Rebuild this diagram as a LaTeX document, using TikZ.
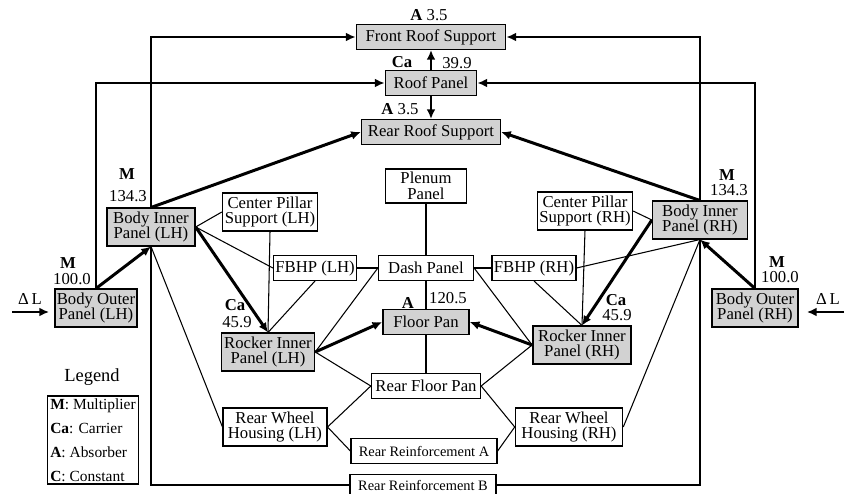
\documentclass[tikz,border=0pt]{standalone}
\usepackage{fontspec}
\setmainfont{Liberation Serif}
\usetikzlibrary{arrows.meta,positioning,calc}
\tikzset{
  partbox/.style={draw,line width=0.8pt,fill=white,inner xsep=1pt,inner ysep=2pt,minimum height=14pt,align=center,font=\fontsize{9.5}{8.8}\selectfont},
  partgray/.style={partbox,fill=gray!35},
  loadarc/.style={->,line width=1.7pt},
  linkarc/.style={line width=0.6pt},
  inarc/.style={->,line width=0.9pt},
  vallab/.style={inner sep=0pt,font=\fontsize{9.5}{10}\selectfont}
}

\begin{document}
\begin{tikzpicture}[x=0.02cm,y=-0.02cm,>={Latex[length=5.5pt,width=5pt]}]
  \useasboundingbox (0,0) rectangle (850,494);
  \node[partgray,minimum width=85pt] (frs) at (431,37) {Front Roof Support};
  \node[partgray,minimum width=52pt] (rp) at (431,83) {Roof Panel};
  \node[partgray,minimum width=79pt] (rrs) at (431,132) {Rear Roof Support};
  \node[partgray,minimum width=50pt] (bil) at (151,227) {Body Inner\\Panel (LH)};
  \node[partgray,minimum width=54pt] (bir) at (700,220) {Body Inner\\Panel (RH)};
  \node[partgray,minimum width=46pt] (bol) at (96,308) {Body Outer\\Panel (LH)};
  \node[partgray,minimum width=49pt] (bor) at (755,308) {Body Outer\\Panel (RH)};
  \node[partbox,minimum width=54pt] (cpl) at (270,212) {Center Pillar\\Support (LH)};
  \node[partbox,minimum width=54pt] (cpr) at (585,211) {Center Pillar\\Support (RH)};
  \node[partbox,minimum width=46pt] (pp) at (426,186) {Plenum\\Panel};
  \node[partbox,minimum width=46.5pt] (fbl) at (315,268) {FBHP (LH)};
  \node[partbox,minimum width=54pt] (dp) at (426,268) {Dash Panel};
  \node[partbox,minimum width=47pt] (fbr) at (534,268) {FBHP (RH)};
  \node[partgray,minimum width=49pt] (fp) at (426,322) {Floor Pan};
  \node[partgray,minimum width=53pt] (ril) at (268,352) {Rocker Inner\\Panel (LH)};
  \node[partgray,minimum width=56pt] (rir) at (582,345) {Rocker Inner\\Panel (RH)};
  \node[partbox,minimum width=62pt] (rfp) at (426,386) {Rear Floor Pan};
  \node[partbox,minimum width=59pt] (rwl) at (275,427) {Rear Wheel\\Housing (LH)};
  \node[partbox,minimum width=61pt] (rwr) at (569,427) {Rear Wheel\\Housing (RH)};
  \node[partbox,minimum width=83pt,font=\fontsize{8.2}{9}\selectfont] (rra) at (424,451) {Rear Reinforcement A};
  \node[partbox,minimum width=83pt,minimum height=12pt,inner ysep=1pt,font=\fontsize{8.2}{9}\selectfont] (rrb) at (423,485) {Rear Reinforcement B};
  % valori
  \node[vallab] (lfrs) at (429,15) {\textbf{A} 3.5};
  \node[vallab] (lrpa) at (402,62) {\textbf{Ca}};
  \node[vallab] (lrpb) at (457,63) {39.9};
  \node[vallab] (lrrs) at (400,109) {\textbf{A} 3.5};
  \node[vallab] (lbila) at (127,174) {\textbf{M}};
  \node[vallab] (lbilb) at (128,196) {134.3};
  \node[vallab] (lbira) at (727,175) {\textbf{M}};
  \node[vallab] (lbirb) at (729,190) {134.3};
  \node[vallab] (lbola) at (68,263) {\textbf{M}};
  \node[vallab] (lbolb) at (72,279) {100.0};
  \node[vallab] (lbora) at (777,262) {\textbf{M}};
  \node[vallab] (lborb) at (780,277) {100.0};
  \node[vallab] (lrila) at (235,305) {\textbf{Ca}};
  \node[vallab] (lrilb) at (237,322) {45.9};
  \node[vallab] (lrira) at (616,300) {\textbf{Ca}};
  \node[vallab] (lrirb) at (617,315) {45.9};
  \node[vallab] (lfpa) at (408,303) {\textbf{A}};
  \node[vallab] (lfpb) at (448,298) {120.5};
  % spostamento imposto
  \node[vallab] (dll) at (30,299) {Δ\,L};
  \node[vallab] (dlr) at (828,299) {Δ\,L};
  \coordinate (inl) at (12,312);
  \coordinate (inlend) at (49,312);
  \coordinate (inr) at (844,312);
  \coordinate (inrend) at (807,312);
  \draw[inarc] (inl) -- (inlend);
  \draw[inarc] (inr) -- (inrend);
  % legenda
  \node[font=\fontsize{10.5}{12}\selectfont] (legt) at (92,377) {Legend};
  \node[draw,line width=0.8pt,align=left,inner sep=1.5pt,font=\fontsize{8.8}{13.6}\selectfont] (leg) at (93,440) {\textbf{M}: Multiplier\\\textbf{Ca}: Carrier\\\textbf{A}: Absorber\\\textbf{C}: Constant};
  % archi di carico
  \draw[loadarc] (bil.north) |- (frs.west);
  \draw[loadarc] (bir.north) |- (frs.east);
  \draw[loadarc] (bol.north) |- (rp.west);
  \draw[loadarc] (bor.north) |- (rp.east);
  \draw[loadarc] (bil.north) -- (rrs.west);
  \draw[loadarc] (bir.north) -- (rrs.east);
  \draw[loadarc] (rp.north) -- (frs.south);
  \draw[loadarc] (rp.south) -- (rrs.north);
  \draw[loadarc] (bol.north) -- (bil.south);
  \draw[loadarc] (bor.north) -- (bir.south);
  \draw[loadarc] (bil.east) -- (ril.north);
  \draw[loadarc] (bir.west) -- (rir.north);
  \draw[loadarc] (ril.east) -- (fp.west);
  \draw[loadarc] (rir.west) -- (fp.east);
  % collegamenti
  \draw[linkarc] (bil.east) -- (cpl.west);
  \draw[linkarc] (bil.east) -- (fbl.west);
  \draw[linkarc] (cpl.south) -- (ril.north);
  \draw[linkarc] (fbl.south) -- (ril.north);
  \draw[linkarc] (fbl.east) -- (dp.west);
  \draw[linkarc] (dp.west) -- (ril.east);
  \draw[linkarc] (pp.south) -- (dp.north);
  \draw[linkarc] (dp.south) -- (fp.north);
  \draw[linkarc] (dp.east) -- (fbr.west);
  \draw[linkarc] (dp.east) -- (rir.west);
  \draw[linkarc] (fbr.south) -- (rir.north);
  \draw[linkarc] (cpr.south) -- (rir.north);
  \draw[linkarc] (cpr.east) -- (bir.west);
  \draw[linkarc] (fbr.east) -- (bir.south);
  \draw[linkarc] (fp.south) -- (rfp.north);
  \draw[linkarc] (ril.east) -- (rfp.west);
  \draw[linkarc] (rir.west) -- (rfp.east);
  \draw[linkarc] (rfp.west) -- (rwl.east);
  \draw[linkarc] (rfp.east) -- (rwr.west);
  \draw[linkarc] (rwl.east) -- (rra.west);
  \draw[linkarc] (rwr.west) -- (rra.east);
  \draw[linkarc] (bil.south) -- (rwl.west);
  \draw[linkarc] (bir.south) -- (rwr.east);
  \draw[linkarc] (bil.south) |- (rrb.west);
  \draw[linkarc] (bir.south) |- (rrb.east);
\end{tikzpicture}
\end{document}
